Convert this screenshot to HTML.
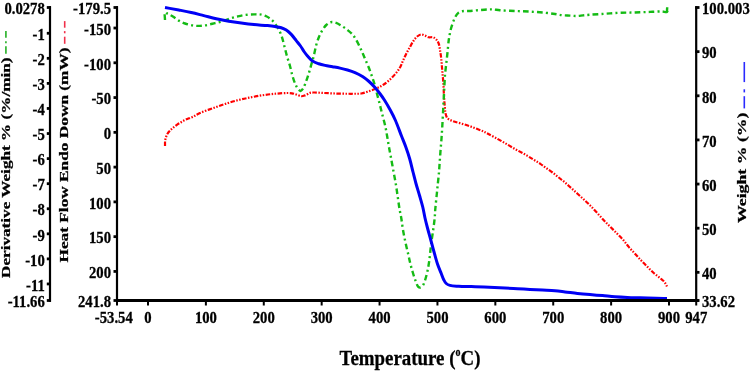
<!DOCTYPE html>
<html><head><meta charset="utf-8"><style>
html,body{margin:0;padding:0;background:#fff;}
body{width:752px;height:371px;overflow:hidden;}
svg{display:block;will-change:transform;filter:blur(0.3px);}
text{font-family:"Liberation Serif",serif;font-weight:bold;fill:#000;stroke:#000;stroke-width:0.25px;}
</style></head><body>
<svg width="752" height="371" viewBox="0 0 752 371">
<rect width="752" height="371" fill="#fff"/>
<path d="M165.00,146.00 C165.08,144.00 164.86,141.99 165.25,140.00 C165.66,137.91 166.44,135.56 167.50,133.75 C168.48,132.07 169.76,130.83 171.25,129.40 C173.00,127.71 175.26,125.94 177.50,124.40 C179.83,122.80 182.46,121.26 185.00,120.00 C187.46,118.78 190.02,118.05 192.50,116.90 C195.03,115.72 197.14,114.28 200.00,113.00 C203.60,111.40 208.32,109.80 212.50,108.30 C216.66,106.80 220.82,105.34 225.00,104.00 C229.15,102.67 233.31,101.39 237.50,100.30 C241.65,99.22 245.82,98.34 250.00,97.50 C254.16,96.66 258.32,95.88 262.50,95.25 C266.66,94.63 270.83,94.13 275.00,93.75 C279.16,93.38 284.38,92.99 287.50,93.00 C289.38,93.01 290.53,93.05 292.00,93.30 C293.45,93.55 294.78,94.04 296.25,94.50 C297.86,95.01 299.69,96.16 301.25,96.25 C302.58,96.33 303.69,95.87 305.00,95.40 C306.58,94.84 308.41,93.36 310.00,92.90 C311.30,92.52 312.24,92.55 313.75,92.50 C316.06,92.43 319.32,92.75 322.50,92.90 C326.30,93.08 330.83,93.36 335.00,93.50 C339.17,93.64 344.01,93.72 347.50,93.75 C350.02,93.78 351.77,93.79 354.00,93.75 C356.35,93.71 358.84,93.90 361.25,93.50 C363.76,93.09 366.26,92.08 368.75,91.25 C371.26,90.41 373.89,89.53 376.25,88.50 C378.46,87.53 380.47,86.57 382.50,85.30 C384.64,83.96 386.72,82.35 388.75,80.60 C390.90,78.74 393.11,76.60 395.00,74.40 C396.86,72.23 398.63,69.88 400.00,67.50 C401.30,65.24 402.05,62.81 403.10,60.50 C404.13,58.22 405.12,55.99 406.25,53.75 C407.41,51.46 408.73,49.14 410.00,46.90 C411.23,44.72 412.40,42.36 413.75,40.50 C414.93,38.87 416.14,37.29 417.50,36.25 C418.67,35.36 419.98,34.49 421.25,34.40 C422.48,34.31 423.76,35.13 425.00,35.60 C426.26,36.08 427.42,36.97 428.75,37.25 C430.12,37.54 431.82,36.85 433.10,37.25 C434.30,37.62 435.35,38.43 436.25,39.40 C437.28,40.51 438.13,42.11 438.75,43.75 C439.44,45.60 439.61,47.74 440.00,50.00 C440.46,52.67 440.91,55.73 441.25,58.75 C441.62,61.97 441.82,65.53 442.10,68.75 C442.37,71.76 442.67,74.60 442.90,77.50 C443.13,80.35 443.32,83.05 443.50,86.00 C443.69,89.20 443.79,92.67 444.00,96.00 C444.21,99.33 444.46,102.91 444.75,106.00 C445.00,108.68 445.05,111.32 445.60,113.50 C446.05,115.30 446.41,117.01 447.50,118.25 C448.65,119.55 450.55,120.20 452.50,121.00 C454.96,122.01 458.34,122.63 461.25,123.50 C464.17,124.38 467.21,125.28 470.00,126.25 C472.61,127.16 475.12,128.17 477.50,129.10 C479.68,129.95 481.95,130.78 483.75,131.60 C485.17,132.24 486.04,132.74 487.50,133.50 C489.58,134.58 492.33,136.04 495.00,137.50 C498.10,139.20 501.68,141.19 505.00,143.10 C508.34,145.02 511.65,147.11 515.00,149.00 C518.32,150.87 521.80,152.56 525.00,154.40 C528.04,156.15 531.08,158.11 533.75,159.75 C536.01,161.14 537.94,162.23 540.00,163.60 C542.11,165.01 544.16,166.61 546.25,168.10 C548.33,169.58 550.44,170.95 552.50,172.50 C554.61,174.08 556.67,175.83 558.75,177.50 C560.83,179.17 562.94,180.76 565.00,182.50 C567.11,184.29 569.17,186.23 571.25,188.10 C573.34,189.98 575.42,191.87 577.50,193.75 C579.58,195.63 581.67,197.49 583.75,199.40 C585.84,201.32 587.80,203.04 590.00,205.25 C592.66,207.92 595.89,211.56 598.50,214.40 C600.75,216.84 602.64,219.04 604.75,221.25 C606.81,223.41 608.92,225.42 611.00,227.50 C613.08,229.58 615.19,231.66 617.25,233.75 C619.29,235.83 621.39,237.81 623.30,240.00 C625.22,242.20 626.83,244.64 628.75,246.90 C630.72,249.22 632.92,251.47 635.00,253.75 C637.08,256.03 639.14,258.39 641.25,260.60 C643.31,262.77 645.43,264.84 647.50,266.90 C649.51,268.91 651.41,270.95 653.50,272.80 C655.58,274.64 658.11,276.44 660.00,278.00 C661.50,279.24 662.96,280.21 664.00,281.40 C664.87,282.40 665.41,283.43 666.00,284.50 C666.58,285.55 667.00,286.67 667.50,287.75" stroke="#ff0000" stroke-width="2.2" fill="none" stroke-dasharray="4.5 1.5 1.5 1.5 1.5 1.5"/>
<path d="M666.9,12.2 L667.2,7.2" stroke="#14bb14" stroke-width="2.4"/>
<path d="M165.00,20.00 C165.00,17.50 164.15,13.02 165.00,12.50 C165.52,12.18 166.52,13.26 167.50,13.75 C168.88,14.44 170.78,15.23 172.50,16.25 C174.51,17.44 176.61,19.37 178.75,20.60 C180.78,21.77 182.78,22.71 185.00,23.50 C187.35,24.33 189.98,25.00 192.50,25.40 C194.98,25.79 197.50,25.97 200.00,25.90 C202.50,25.83 205.01,25.46 207.50,25.00 C210.02,24.53 212.50,23.73 215.00,23.10 C217.50,22.48 220.02,22.01 222.50,21.25 C225.02,20.48 227.48,19.30 230.00,18.50 C232.48,17.72 234.99,17.08 237.50,16.50 C239.99,15.92 242.37,15.35 245.00,15.00 C247.85,14.62 251.30,14.49 254.00,14.40 C256.20,14.33 258.00,14.11 260.00,14.40 C262.08,14.70 264.24,15.28 266.25,16.25 C268.42,17.29 270.66,18.80 272.50,20.60 C274.44,22.51 276.04,25.09 277.50,27.50 C278.95,29.89 280.17,32.19 281.25,35.00 C282.53,38.32 283.43,42.63 284.40,46.25 C285.30,49.61 285.98,52.74 286.90,56.00 C287.84,59.32 289.06,62.65 290.00,66.00 C290.93,69.32 291.54,72.80 292.50,76.00 C293.42,79.04 294.41,82.29 295.60,84.75 C296.55,86.71 297.73,88.70 298.75,89.75 C299.38,90.40 299.96,91.06 300.60,91.00 C301.40,90.92 302.32,89.66 303.10,88.50 C304.28,86.74 305.30,83.52 306.25,81.00 C307.18,78.52 307.94,76.11 308.75,73.50 C309.61,70.70 310.42,67.67 311.25,64.75 C312.08,61.83 312.96,59.09 313.75,56.00 C314.63,52.55 315.33,48.30 316.25,45.00 C317.02,42.24 317.73,39.96 318.75,37.50 C319.80,34.96 321.14,32.19 322.50,30.00 C323.67,28.11 324.82,26.32 326.25,25.00 C327.55,23.80 329.08,22.64 330.60,22.25 C332.01,21.89 333.45,22.09 335.00,22.50 C336.95,23.02 339.21,24.39 341.25,25.60 C343.38,26.87 345.57,28.48 347.50,30.00 C349.30,31.42 351.04,32.74 352.50,34.40 C353.96,36.07 354.98,37.82 356.25,40.00 C357.88,42.81 359.75,46.76 361.25,50.00 C362.64,52.99 363.75,55.83 365.00,58.75 C366.25,61.67 367.59,64.57 368.75,67.50 C369.89,70.40 370.93,73.44 371.90,76.25 C372.80,78.84 373.64,81.18 374.40,83.75 C375.18,86.42 375.72,89.01 376.50,92.00 C377.43,95.57 378.63,99.99 379.60,103.75 C380.49,107.21 381.21,110.25 382.10,113.75 C383.08,117.63 384.39,122.11 385.25,126.00 C386.02,129.49 386.49,132.57 387.10,136.00 C387.74,139.64 388.35,143.61 389.00,147.25 C389.62,150.68 390.22,153.59 390.90,157.25 C391.73,161.69 392.74,167.29 393.60,172.00 C394.40,176.34 395.21,180.33 395.90,184.50 C396.59,188.66 397.13,192.83 397.75,197.00 C398.37,201.17 398.96,205.74 399.60,209.50 C400.13,212.61 400.72,214.89 401.25,218.00 C401.89,221.76 402.38,226.34 403.10,230.50 C403.83,234.68 404.71,238.88 405.60,243.00 C406.48,247.05 407.53,251.21 408.40,255.00 C409.18,258.42 409.80,261.60 410.60,264.75 C411.37,267.76 412.24,270.70 413.10,273.50 C413.91,276.11 414.71,278.70 415.60,281.00 C416.39,283.02 417.11,285.59 418.10,286.60 C418.68,287.19 419.33,287.53 420.00,287.50 C420.79,287.46 421.77,286.82 422.50,286.00 C423.56,284.81 424.24,282.54 425.00,280.40 C425.95,277.70 426.82,274.07 427.50,271.00 C428.14,268.11 428.58,265.30 429.00,262.50 C429.41,259.80 429.66,257.41 430.00,254.50 C430.41,251.01 430.75,246.91 431.25,243.00 C431.77,238.92 432.52,234.67 433.10,230.50 C433.67,226.34 434.34,221.77 434.70,218.00 C435.00,214.90 434.99,212.60 435.25,209.50 C435.56,205.73 436.08,201.17 436.50,197.00 C436.92,192.83 437.33,188.67 437.75,184.50 C438.17,180.33 438.68,175.77 439.00,172.00 C439.26,168.90 439.38,166.61 439.60,163.50 C439.87,159.73 440.18,155.17 440.50,151.00 C440.82,146.83 441.20,142.67 441.50,138.50 C441.80,134.33 442.04,130.36 442.30,126.00 C442.58,121.23 442.85,115.77 443.10,111.00 C443.33,106.64 443.53,102.67 443.75,98.50 C443.97,94.33 444.19,90.03 444.40,86.00 C444.60,82.22 444.70,78.68 445.00,75.00 C445.31,71.27 445.83,67.50 446.25,63.75 C446.67,60.00 447.09,56.35 447.50,52.50 C447.93,48.44 448.35,42.94 448.75,40.00 C448.97,38.38 449.14,37.66 449.40,36.25 C449.73,34.43 450.09,32.07 450.60,30.00 C451.12,27.90 451.77,25.82 452.50,23.75 C453.24,21.65 454.00,19.35 455.00,17.50 C455.90,15.85 456.80,14.15 458.10,13.10 C459.33,12.11 460.87,11.61 462.50,11.25 C464.37,10.83 466.49,11.14 468.75,11.00 C471.42,10.83 474.49,10.49 477.50,10.25 C480.72,9.99 484.74,9.63 487.50,9.50 C489.45,9.41 490.67,9.31 492.50,9.40 C494.75,9.50 497.07,10.01 500.00,10.25 C504.14,10.59 510.00,10.77 515.00,11.00 C520.00,11.22 525.00,11.31 530.00,11.60 C535.00,11.89 540.51,12.30 545.00,12.75 C548.67,13.12 551.91,13.55 555.00,14.00 C557.68,14.39 559.99,14.98 562.50,15.25 C564.99,15.51 567.61,15.47 570.00,15.60 C572.18,15.72 574.13,16.03 576.25,16.00 C578.46,15.97 580.73,15.61 583.00,15.40 C585.31,15.19 587.23,14.97 590.00,14.75 C594.06,14.43 600.00,14.08 605.00,13.75 C610.00,13.42 615.00,12.96 620.00,12.75 C625.00,12.54 630.00,12.64 635.00,12.50 C640.00,12.36 645.29,12.07 650.00,11.90 C654.20,11.75 658.76,11.43 661.90,11.50 C663.96,11.55 666.18,12.66 667.00,11.90 C667.76,11.20 667.00,8.97 667.00,7.50" stroke="#14bb14" stroke-width="2.4" fill="none" stroke-dasharray="5.6 3.2 2 3.2"/>
<path d="M165.00,7.50 C169.58,8.33 174.28,9.15 178.75,10.00 C183.02,10.82 187.09,11.57 191.25,12.50 C195.43,13.44 199.58,14.56 203.75,15.60 C207.92,16.64 212.07,17.81 216.25,18.75 C220.41,19.69 224.57,20.52 228.75,21.25 C232.91,21.97 237.06,22.54 241.25,23.10 C245.47,23.66 249.68,24.19 254.00,24.60 C258.43,25.02 263.66,25.23 267.50,25.60 C270.37,25.88 272.62,26.12 275.00,26.50 C277.19,26.85 279.32,27.13 281.25,27.75 C283.04,28.33 284.66,28.97 286.25,30.00 C288.01,31.13 289.65,32.73 291.25,34.40 C293.00,36.22 294.66,38.60 296.25,40.60 C297.73,42.46 299.19,44.16 300.50,46.00 C301.77,47.79 302.79,49.79 304.00,51.50 C305.13,53.10 306.18,54.50 307.50,56.00 C308.97,57.67 310.60,59.70 312.50,61.00 C314.36,62.27 316.64,63.01 318.75,63.75 C320.81,64.47 322.81,64.92 325.00,65.40 C327.38,65.92 330.00,66.25 332.50,66.70 C335.00,67.15 337.51,67.55 340.00,68.10 C342.51,68.65 345.02,69.26 347.50,70.00 C350.02,70.75 352.54,71.54 355.00,72.60 C357.54,73.69 360.17,75.03 362.50,76.50 C364.74,77.92 366.72,79.48 368.75,81.25 C370.90,83.13 373.09,85.36 375.00,87.50 C376.82,89.53 378.42,91.64 380.00,93.75 C381.55,95.81 382.88,97.64 384.40,100.00 C386.27,102.91 388.43,106.64 390.25,110.00 C392.04,113.30 393.58,116.23 395.25,120.00 C397.32,124.67 399.60,131.14 401.50,136.00 C403.09,140.08 404.54,143.48 405.90,147.25 C407.24,150.98 408.46,154.56 409.60,158.50 C410.84,162.77 411.91,167.71 413.00,172.00 C414.00,175.92 414.84,179.41 415.90,183.25 C417.03,187.32 418.43,191.69 419.60,195.75 C420.71,199.59 421.84,203.25 422.75,207.00 C423.64,210.67 424.19,214.43 425.00,218.00 C425.78,221.42 426.60,224.57 427.50,228.00 C428.46,231.65 429.57,235.46 430.60,239.25 C431.65,243.12 432.63,246.99 433.75,251.00 C434.93,255.23 436.15,260.04 437.50,264.00 C438.67,267.44 440.12,270.66 441.25,273.50 C442.16,275.80 442.81,277.97 443.75,279.75 C444.52,281.20 445.18,282.55 446.25,283.50 C447.28,284.42 448.44,284.95 450.00,285.40 C452.26,286.06 455.57,286.05 458.75,286.25 C462.54,286.49 467.06,286.48 471.25,286.60 C475.48,286.73 479.22,286.81 484.00,287.00 C490.13,287.24 498.90,287.67 505.00,288.00 C509.70,288.25 513.33,288.52 517.50,288.75 C521.67,288.98 525.83,289.18 530.00,289.40 C534.17,289.63 538.33,289.87 542.50,290.10 C546.67,290.33 551.07,290.47 555.00,290.80 C558.52,291.09 561.48,291.50 565.00,291.90 C568.94,292.35 573.33,292.95 577.50,293.40 C581.66,293.85 585.83,294.23 590.00,294.60 C594.17,294.97 598.33,295.25 602.50,295.60 C606.67,295.95 610.83,296.40 615.00,296.70 C619.16,297.00 623.33,297.22 627.50,297.40 C631.67,297.58 635.56,297.66 640.00,297.80 C645.06,297.96 651.39,298.18 656.25,298.30 C660.20,298.40 663.42,298.43 667.00,298.50" stroke="#0000f5" stroke-width="3.0" fill="none" stroke-linejoin="round"/>
<line x1="50.00" y1="6.30" x2="50.00" y2="301.70" stroke="#000" stroke-width="2.20"/>
<line x1="46.80" y1="7.50" x2="51.00" y2="7.50" stroke="#000" stroke-width="2.80"/>
<line x1="46.80" y1="33.27" x2="51.00" y2="33.27" stroke="#000" stroke-width="2.80"/>
<line x1="46.80" y1="58.33" x2="51.00" y2="58.33" stroke="#000" stroke-width="2.80"/>
<line x1="46.80" y1="83.40" x2="51.00" y2="83.40" stroke="#000" stroke-width="2.80"/>
<line x1="46.80" y1="108.47" x2="51.00" y2="108.47" stroke="#000" stroke-width="2.80"/>
<line x1="46.80" y1="133.54" x2="51.00" y2="133.54" stroke="#000" stroke-width="2.80"/>
<line x1="46.80" y1="158.61" x2="51.00" y2="158.61" stroke="#000" stroke-width="2.80"/>
<line x1="46.80" y1="183.68" x2="51.00" y2="183.68" stroke="#000" stroke-width="2.80"/>
<line x1="46.80" y1="208.75" x2="51.00" y2="208.75" stroke="#000" stroke-width="2.80"/>
<line x1="46.80" y1="233.82" x2="51.00" y2="233.82" stroke="#000" stroke-width="2.80"/>
<line x1="46.80" y1="258.89" x2="51.00" y2="258.89" stroke="#000" stroke-width="2.80"/>
<line x1="46.80" y1="283.95" x2="51.00" y2="283.95" stroke="#000" stroke-width="2.80"/>
<line x1="46.80" y1="300.50" x2="51.00" y2="300.50" stroke="#000" stroke-width="2.80"/>
<line x1="117.00" y1="6.30" x2="117.00" y2="300.50" stroke="#000" stroke-width="2.20"/>
<line x1="113.50" y1="7.50" x2="118.00" y2="7.50" stroke="#000" stroke-width="2.80"/>
<line x1="113.50" y1="28.02" x2="118.00" y2="28.02" stroke="#000" stroke-width="2.80"/>
<line x1="113.50" y1="62.79" x2="118.00" y2="62.79" stroke="#000" stroke-width="2.80"/>
<line x1="113.50" y1="97.56" x2="118.00" y2="97.56" stroke="#000" stroke-width="2.80"/>
<line x1="113.50" y1="132.34" x2="118.00" y2="132.34" stroke="#000" stroke-width="2.80"/>
<line x1="113.50" y1="167.11" x2="118.00" y2="167.11" stroke="#000" stroke-width="2.80"/>
<line x1="113.50" y1="201.88" x2="118.00" y2="201.88" stroke="#000" stroke-width="2.80"/>
<line x1="113.50" y1="236.66" x2="118.00" y2="236.66" stroke="#000" stroke-width="2.80"/>
<line x1="113.50" y1="271.43" x2="118.00" y2="271.43" stroke="#000" stroke-width="2.80"/>
<line x1="113.50" y1="300.50" x2="118.00" y2="300.50" stroke="#000" stroke-width="2.80"/>
<line x1="696.20" y1="6.30" x2="696.20" y2="300.50" stroke="#000" stroke-width="2.20"/>
<line x1="695.20" y1="7.50" x2="699.50" y2="7.50" stroke="#000" stroke-width="2.80"/>
<line x1="695.20" y1="51.65" x2="699.50" y2="51.65" stroke="#000" stroke-width="2.80"/>
<line x1="695.20" y1="95.79" x2="699.50" y2="95.79" stroke="#000" stroke-width="2.80"/>
<line x1="695.20" y1="139.93" x2="699.50" y2="139.93" stroke="#000" stroke-width="2.80"/>
<line x1="695.20" y1="184.06" x2="699.50" y2="184.06" stroke="#000" stroke-width="2.80"/>
<line x1="695.20" y1="228.20" x2="699.50" y2="228.20" stroke="#000" stroke-width="2.80"/>
<line x1="695.20" y1="272.34" x2="699.50" y2="272.34" stroke="#000" stroke-width="2.80"/>
<line x1="695.20" y1="300.50" x2="699.50" y2="300.50" stroke="#000" stroke-width="2.80"/>
<line x1="116.00" y1="300.50" x2="698.70" y2="300.50" stroke="#000" stroke-width="3.00"/>
<line x1="117.01" y1="300.50" x2="117.01" y2="305.50" stroke="#000" stroke-width="2.00"/>
<line x1="148.00" y1="300.50" x2="148.00" y2="305.50" stroke="#000" stroke-width="2.00"/>
<line x1="205.89" y1="300.50" x2="205.89" y2="305.50" stroke="#000" stroke-width="2.00"/>
<line x1="263.78" y1="300.50" x2="263.78" y2="305.50" stroke="#000" stroke-width="2.00"/>
<line x1="321.67" y1="300.50" x2="321.67" y2="305.50" stroke="#000" stroke-width="2.00"/>
<line x1="379.56" y1="300.50" x2="379.56" y2="305.50" stroke="#000" stroke-width="2.00"/>
<line x1="437.45" y1="300.50" x2="437.45" y2="305.50" stroke="#000" stroke-width="2.00"/>
<line x1="495.34" y1="300.50" x2="495.34" y2="305.50" stroke="#000" stroke-width="2.00"/>
<line x1="553.23" y1="300.50" x2="553.23" y2="305.50" stroke="#000" stroke-width="2.00"/>
<line x1="611.12" y1="300.50" x2="611.12" y2="305.50" stroke="#000" stroke-width="2.00"/>
<line x1="669.01" y1="300.50" x2="669.01" y2="305.50" stroke="#000" stroke-width="2.00"/>
<line x1="696.22" y1="300.50" x2="696.22" y2="305.50" stroke="#000" stroke-width="2.00"/>
<line x1="5.90" y1="31.10" x2="5.90" y2="37.70" stroke="#3cb83c" stroke-width="1.80"/>
<line x1="5.90" y1="41.20" x2="5.90" y2="43.30" stroke="#3cb83c" stroke-width="1.80"/>
<line x1="5.90" y1="46.20" x2="5.90" y2="53.80" stroke="#3cb83c" stroke-width="1.80"/>
<line x1="64.70" y1="21.10" x2="64.70" y2="27.70" stroke="#f0304a" stroke-width="1.60"/>
<line x1="64.70" y1="31.10" x2="64.70" y2="33.30" stroke="#f0304a" stroke-width="1.60"/>
<line x1="64.70" y1="36.70" x2="64.70" y2="43.80" stroke="#f0304a" stroke-width="1.60"/>
<line x1="744.30" y1="62.00" x2="744.30" y2="82.10" stroke="#2a2aff" stroke-width="1.60"/>
<line x1="744.30" y1="89.30" x2="744.30" y2="92.40" stroke="#2a2aff" stroke-width="1.60"/>
<line x1="744.30" y1="96.20" x2="744.30" y2="108.40" stroke="#2a2aff" stroke-width="1.60"/>
<text transform="translate(44.80 14.21) scale(1 1.160)" text-anchor="end" font-size="14.70">0.0278</text>
<text transform="translate(44.80 39.98) scale(1 1.160)" text-anchor="end" font-size="14.70">-1</text>
<text transform="translate(44.80 65.05) scale(1 1.160)" text-anchor="end" font-size="14.70">-2</text>
<text transform="translate(44.80 90.12) scale(1 1.160)" text-anchor="end" font-size="14.70">-3</text>
<text transform="translate(44.80 115.18) scale(1 1.160)" text-anchor="end" font-size="14.70">-4</text>
<text transform="translate(44.80 140.25) scale(1 1.160)" text-anchor="end" font-size="14.70">-5</text>
<text transform="translate(44.80 165.32) scale(1 1.160)" text-anchor="end" font-size="14.70">-6</text>
<text transform="translate(44.80 190.39) scale(1 1.160)" text-anchor="end" font-size="14.70">-7</text>
<text transform="translate(44.80 215.46) scale(1 1.160)" text-anchor="end" font-size="14.70">-8</text>
<text transform="translate(44.80 240.53) scale(1 1.160)" text-anchor="end" font-size="14.70">-9</text>
<text transform="translate(44.80 265.60) scale(1 1.160)" text-anchor="end" font-size="14.70">-10</text>
<text transform="translate(44.80 290.67) scale(1 1.160)" text-anchor="end" font-size="14.70">-11</text>
<text transform="translate(44.80 307.21) scale(1 1.160)" text-anchor="end" font-size="14.70">-11.66</text>
<text transform="translate(111.00 14.31) scale(1 1.160)" text-anchor="end" font-size="14.70">-179.5</text>
<text transform="translate(111.00 34.83) scale(1 1.160)" text-anchor="end" font-size="14.70">-150</text>
<text transform="translate(111.00 69.60) scale(1 1.160)" text-anchor="end" font-size="14.70">-100</text>
<text transform="translate(111.00 104.38) scale(1 1.160)" text-anchor="end" font-size="14.70">-50</text>
<text transform="translate(111.00 139.15) scale(1 1.160)" text-anchor="end" font-size="14.70">0</text>
<text transform="translate(111.00 173.92) scale(1 1.160)" text-anchor="end" font-size="14.70">50</text>
<text transform="translate(111.00 208.70) scale(1 1.160)" text-anchor="end" font-size="14.70">100</text>
<text transform="translate(111.00 243.47) scale(1 1.160)" text-anchor="end" font-size="14.70">150</text>
<text transform="translate(111.00 278.24) scale(1 1.160)" text-anchor="end" font-size="14.70">200</text>
<text transform="translate(111.00 307.31) scale(1 1.160)" text-anchor="end" font-size="14.70">241.8</text>
<text transform="translate(702.00 14.21) scale(1 1.160)" text-anchor="start" font-size="14.70">100.003</text>
<text transform="translate(702.00 58.36) scale(1 1.160)" text-anchor="start" font-size="14.70">90</text>
<text transform="translate(702.00 102.50) scale(1 1.160)" text-anchor="start" font-size="14.70">80</text>
<text transform="translate(702.00 146.64) scale(1 1.160)" text-anchor="start" font-size="14.70">70</text>
<text transform="translate(702.00 190.78) scale(1 1.160)" text-anchor="start" font-size="14.70">60</text>
<text transform="translate(702.00 234.91) scale(1 1.160)" text-anchor="start" font-size="14.70">50</text>
<text transform="translate(702.00 279.05) scale(1 1.160)" text-anchor="start" font-size="14.70">40</text>
<text transform="translate(702.00 307.21) scale(1 1.160)" text-anchor="start" font-size="14.70">33.62</text>
<text transform="translate(113.80 322.80) scale(1 1.160)" text-anchor="middle" font-size="14.70">-53.54</text>
<text transform="translate(148.00 322.80) scale(1 1.160)" text-anchor="middle" font-size="14.70">0</text>
<text transform="translate(205.89 322.80) scale(1 1.160)" text-anchor="middle" font-size="14.70">100</text>
<text transform="translate(263.78 322.80) scale(1 1.160)" text-anchor="middle" font-size="14.70">200</text>
<text transform="translate(321.67 322.80) scale(1 1.160)" text-anchor="middle" font-size="14.70">300</text>
<text transform="translate(379.56 322.80) scale(1 1.160)" text-anchor="middle" font-size="14.70">400</text>
<text transform="translate(437.45 322.80) scale(1 1.160)" text-anchor="middle" font-size="14.70">500</text>
<text transform="translate(495.34 322.80) scale(1 1.160)" text-anchor="middle" font-size="14.70">600</text>
<text transform="translate(553.23 322.80) scale(1 1.160)" text-anchor="middle" font-size="14.70">700</text>
<text transform="translate(611.12 322.80) scale(1 1.160)" text-anchor="middle" font-size="14.70">800</text>
<text transform="translate(669.01 322.80) scale(1 1.160)" text-anchor="middle" font-size="14.70">900</text>
<text transform="translate(696.22 322.80) scale(1 1.160)" text-anchor="middle" font-size="14.70">947</text>
<text transform="translate(339.6 364.6) scale(1 1.16)" font-size="18.9">Temperature (<tspan font-size="10" dy="-7.8">o</tspan><tspan dy="7.8">C)</tspan></text>
<text transform="translate(10.00 278.00) rotate(-90)" font-size="12.60" textLength="220.50" lengthAdjust="spacingAndGlyphs">Derivative Weight % (%/min)</text>
<text transform="translate(68.30 262.50) rotate(-90)" font-size="12.60" textLength="215.00" lengthAdjust="spacingAndGlyphs">Heat Flow Endo Down (mW)</text>
<text transform="translate(746.20 223.00) rotate(-90)" font-size="12.60" textLength="110.50" lengthAdjust="spacingAndGlyphs">Weight % (%)</text>
</svg>
</body></html>
